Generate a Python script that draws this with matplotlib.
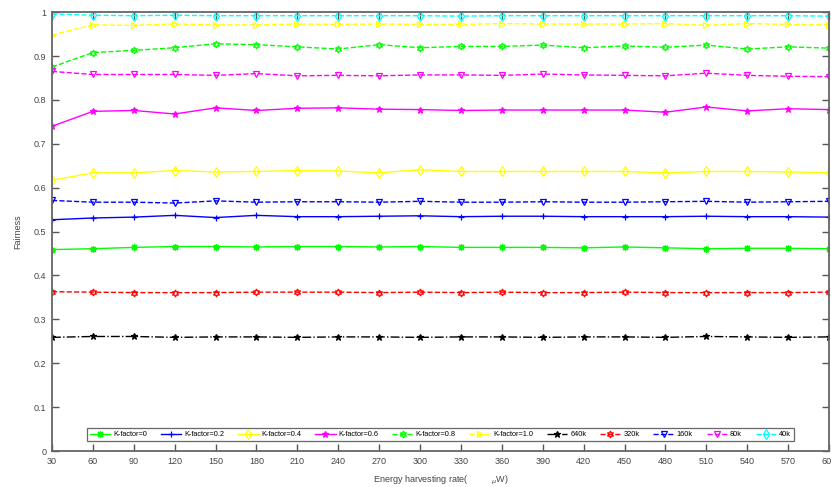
import numpy as np
import matplotlib
matplotlib.use('Agg')
import matplotlib.pyplot as plt

plt.rcParams['font.family'] = ['Liberation Sans', 'DejaVu Sans']
plt.rcParams['mathtext.fontset'] = 'dejavusans'

# energy harvesting rate (uW)
rates = np.arange(30, 601, 30)

k00 = [0.459,0.461,0.464,0.466,0.466,0.465,0.466,0.466,0.465,0.466,0.464,0.464,0.464,0.463,0.465,0.463,0.461,0.462,0.462,0.461]
k02 = [0.527,0.531,0.533,0.537,0.532,0.537,0.534,0.534,0.535,0.536,0.534,0.535,0.535,0.534,0.534,0.534,0.535,0.534,0.534,0.533]
k04 = [0.617,0.634,0.634,0.639,0.636,0.637,0.639,0.638,0.634,0.641,0.637,0.637,0.637,0.637,0.637,0.634,0.637,0.637,0.636,0.634]
k06 = [0.740,0.774,0.776,0.768,0.782,0.776,0.781,0.782,0.779,0.778,0.776,0.777,0.777,0.777,0.777,0.772,0.784,0.775,0.780,0.778]
k08 = [0.875,0.908,0.913,0.919,0.928,0.926,0.921,0.916,0.926,0.919,0.922,0.922,0.925,0.919,0.923,0.920,0.925,0.916,0.921,0.918]
k10 = [0.948,0.971,0.970,0.973,0.971,0.971,0.973,0.972,0.973,0.972,0.972,0.974,0.973,0.973,0.973,0.974,0.970,0.974,0.972,0.971]
b640 = [0.259,0.261,0.261,0.259,0.260,0.260,0.259,0.260,0.260,0.259,0.260,0.260,0.259,0.260,0.260,0.259,0.261,0.260,0.259,0.260]
b320 = [0.363,0.362,0.361,0.361,0.361,0.362,0.362,0.362,0.361,0.362,0.361,0.362,0.361,0.361,0.362,0.361,0.361,0.361,0.361,0.362]
b160 = [0.571,0.567,0.567,0.565,0.570,0.567,0.568,0.568,0.567,0.569,0.567,0.567,0.568,0.567,0.567,0.568,0.569,0.567,0.568,0.569]
b80 = [0.865,0.858,0.858,0.858,0.856,0.860,0.855,0.856,0.855,0.857,0.857,0.856,0.859,0.857,0.856,0.855,0.861,0.856,0.854,0.853]
b40 = [0.996,0.993,0.992,0.993,0.992,0.992,0.992,0.992,0.992,0.992,0.991,0.992,0.992,0.992,0.992,0.992,0.992,0.992,0.992,0.991]

labels = ['K-factor=0','K-factor=0.2','K-factor=0.4','K-factor=0.6','K-factor=0.8','K-factor=1.0',
          '640k','320k','160k','80k','40k']
series = [k00,k02,k04,k06,k08,k10,b640,b320,b160,b80,b40]

# (color, linestyle, marker, filled)
styles = [('#00ff00','-',(8,2,0),True),
          ('#0000ff','-','+',True),
          ('#ffff00','-','d',False),
          ('#ff00ff','-','*',True),
          ('#00ff00','--',(6,1,0),False),
          ('#ffff00','--','>',False),
          ('#000000','-.','*',True),
          ('#ff0000','--',(6,1,0),False),
          ('#0000ff','--','v',False),
          ('#ff00ff','--','v',False),
          ('#00ffff','--','d',False)]

fig = plt.figure(figsize=(8.31,4.87),dpi=100)
ax = fig.add_axes([0.0626,0.0739,0.9350,0.9011])

for vals,lab,(c,ls,m,filled) in zip(series,labels,styles):
	ax.plot(rates,vals,color=c,linestyle=ls,marker=m,markersize=5,linewidth=1.0,
		markerfacecolor=c if filled else 'none',markeredgecolor=c,markeredgewidth=0.9,label=lab)

ax.set_xlim(30,600)
ax.set_ylim(0,1)
ax.set_xticks(rates)
ax.set_yticks(np.arange(0,1.01,0.1))
ax.set_yticklabels(['0','0.1','0.2','0.3','0.4','0.5','0.6','0.7','0.8','0.9','1'])
ax.tick_params(direction='in',length=5,width=1,colors='#555555',labelsize=6.5,
	top=True,right=True,labelcolor='#444444',pad=4)
for sp in ax.spines.values():
	sp.set_color('#666666')
	sp.set_linewidth(1.3)

ax.set_ylabel('Fairness',fontsize=6.5,color='#444444',labelpad=8)
ax.set_xlabel('Energy harvesting rate(          $_{\\mu}$W)',fontsize=6.5,color='#444444',labelpad=6)

leg = ax.legend(ncol=11,loc='lower center',bbox_to_anchor=(0.5,0.014),fontsize=5.3,
	frameon=True,fancybox=False,edgecolor='#444444',handlelength=2.8,columnspacing=1.85,
	handletextpad=0.4,borderpad=0.4,markerscale=1.0)
leg.get_frame().set_linewidth(0.9)

fig.savefig('out.png',dpi=100)
